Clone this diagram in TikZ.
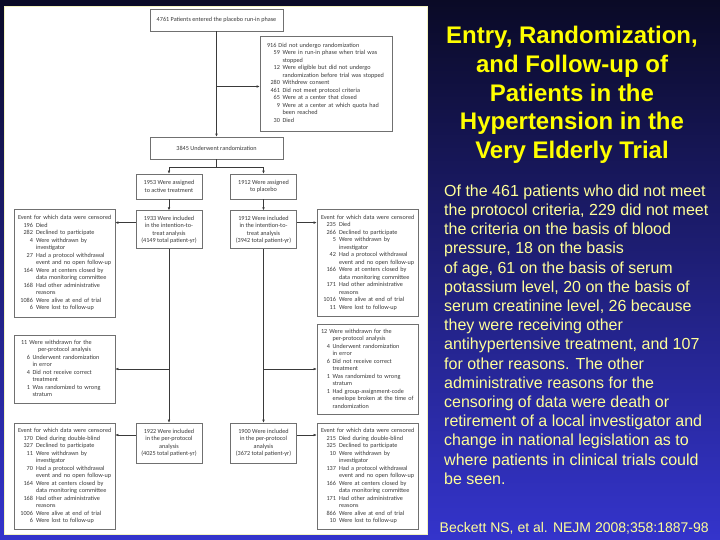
\documentclass[tikz,border=0pt]{standalone}
\usepackage{fontspec}
\usepackage{array}
\setmainfont{Liberation Sans}
\newfontfamily\chartfont{Carlito}
\usepackage{tikz}
\usetikzlibrary{arrows.meta,positioning}
\definecolor{HyvetNavy}{HTML}{0A0A26}
\definecolor{HyvetBlue}{HTML}{3434CC}
\definecolor{HyvetYellow}{HTML}{FFFF00}
\definecolor{HyvetPale}{HTML}{FFFF99}
\definecolor{HyvetRim}{HTML}{F2F2C0}
\definecolor{HyvetGray}{HTML}{707070}
\definecolor{HyvetInk}{HTML}{3A3A3A}

\begin{document}
\begin{tikzpicture}[
    x=1pt,y=-1pt,
    box/.style={draw=HyvetGray,fill=white,line width=0.6pt,inner sep=0pt,text=HyvetInk,font=\chartfont\fontsize{6.2}{7.5}\selectfont},
    cbox/.style={box,align=center,minimum width=66pt},
    lbox/.style={box,text width=93pt,inner xsep=4pt,align=left},
    arr/.style={-{Latex[length=3pt,width=2.6pt]},HyvetInk,line width=0.5pt},
    link/.style={HyvetInk,line width=0.5pt},
    title/.style={align=center,text=HyvetYellow,font=\bfseries\fontsize{24}{28.7}\selectfont},
    note/.style={align=left,text=HyvetPale,inner sep=0pt,font=\fontsize{16}{19.2}\selectfont}
  ]
  \useasboundingbox (0,0) rectangle (720,540);
  \shade[top color=HyvetNavy,bottom color=HyvetBlue] (0,0) rectangle (720,540);
  \draw[HyvetRim,line width=1pt,fill=white] (4.5,6.5) rectangle (427,534);

  % enrolment
  \node[cbox,minimum width=133pt,minimum height=22pt] (run) at (216.5,20)
    {4761 Patients entered the placebo run-in phase};
  \node[lbox,text width=118pt,inner xsep=7pt,minimum height=95pt] (excl) at (326,83.5) {%
    \begin{tabular}{@{}w{r}{13pt}@{\hspace{2.5pt}}l@{}}
    \multicolumn{2}{@{}l@{}}{916 Did not undergo randomization}\\
    59 & Were in run-in phase when trial was\\
       & stopped\\
    12 & Were eligible but did not undergo\\
       & randomization before trial was stopped\\
    280 & Withdrew consent\\
    461 & Did not meet protocol criteria\\
    65 & Were at a center that closed\\
    9 & Were at a center at which quota had\\
      & been reached\\
    30 & Died
    \end{tabular}};
  \node[cbox,minimum width=133pt,minimum height=22pt] (rand) at (216.5,148)
    {3845 Underwent randomization};

  % two arms
  \node[cbox,minimum height=25pt] (act) at (169,186.5) {1953 Were assigned\\to active treatment};
  \node[cbox,minimum height=25pt] (plc) at (263.5,186.5) {1912 Were assigned\\to placebo};
  \node[cbox,minimum height=38pt,below=11pt of act] (ittA)
    {1933 Were included\\in the intention-to-\\treat analysis\\(4149 total patient-yr)};
  \node[cbox,minimum height=38pt,below=11pt of plc] (ittP)
    {1912 Were included\\in the intention-to-\\treat analysis\\(3942 total patient-yr)};
  \node[cbox,minimum height=40pt] (ppA) at (169,443)
    {1922 Were included\\in the per-protocol\\analysis\\(4025 total patient-yr)};
  \node[cbox,minimum height=40pt] (ppP) at (263.5,443)
    {1900 Were included\\in the per-protocol\\analysis\\(3672 total patient-yr)};

  % censored, intention-to-treat
  \node[lbox,minimum height=108pt] (cenA1) at (64.5,263) {%
    \begin{tabular}{@{}w{r}{15pt}@{\hspace{3pt}}l@{}}
    \multicolumn{2}{@{}l@{}}{Event for which data were censored}\\
    196 & Died\\
    282 & Declined to participate\\
    4 & Were withdrawn by\\
      & investigator\\
    27 & Had a protocol withdrawal\\
       & event and no open follow-up\\
    164 & Were at centers closed by\\
        & data monitoring committee\\
    168 & Had other administrative\\
        & reasons\\
    1086 & Were alive at end of trial\\
    6 & Were lost to follow-up
    \end{tabular}};
  \node[lbox,minimum height=107pt] (cenP1) at (367.5,262.5) {%
    \begin{tabular}{@{}w{r}{15pt}@{\hspace{3pt}}l@{}}
    \multicolumn{2}{@{}l@{}}{Event for which data were censored}\\
    235 & Died\\
    266 & Declined to participate\\
    5 & Were withdrawn by\\
      & investigator\\
    42 & Had a protocol withdrawal\\
       & event and no open follow-up\\
    166 & Were at centers closed by\\
        & data monitoring committee\\
    171 & Had other administrative\\
        & reasons\\
    1016 & Were alive at end of trial\\
    11 & Were lost to follow-up
    \end{tabular}};

  % withdrawn for per-protocol
  \node[lbox,text width=87pt,inner xsep=7pt,minimum height=68pt] (wdA) at (64.5,369) {%
    \begin{tabular}{@{}w{r}{9pt}@{\hspace{2.5pt}}l@{}}
    \multicolumn{2}{@{}l@{}}{11 Were withdrawn for the}\\
    \multicolumn{2}{@{}l@{}}{\hspace{17pt}per-protocol analysis}\\
    6 & Underwent randomization\\
      & in error\\
    4 & Did not receive correct\\
      & treatment\\
    1 & Was randomized to wrong\\
      & stratum
    \end{tabular}};
  \node[lbox,minimum height=90pt] (wdP) at (367.5,369) {%
    \begin{tabular}{@{}w{r}{9pt}@{\hspace{2.5pt}}l@{}}
    \multicolumn{2}{@{}l@{}}{12 Were withdrawn for the}\\
      & per-protocol analysis\\
    4 & Underwent randomization\\
      & in error\\
    6 & Did not receive correct\\
      & treatment\\
    1 & Was randomized to wrong\\
      & stratum\\
    1 & Had group-assignment-code\\
      & envelope broken at the time of\\
      & randomization
    \end{tabular}};

  % censored, per-protocol
  \node[lbox,minimum height=106pt] (cenA2) at (64.5,476) {%
    \begin{tabular}{@{}w{r}{15pt}@{\hspace{3pt}}l@{}}
    \multicolumn{2}{@{}l@{}}{Event for which data were censored}\\
    170 & Died during double-blind\\
    327 & Declined to participate\\
    11 & Were withdrawn by\\
       & investigator\\
    70 & Had a protocol withdrawal\\
       & event and no open follow-up\\
    164 & Were at centers closed by\\
        & data monitoring committee\\
    168 & Had other administrative\\
        & reasons\\
    1006 & Were alive at end of trial\\
    6 & Were lost to follow-up
    \end{tabular}};
  \node[lbox,minimum height=106pt] (cenP2) at (367.5,476) {%
    \begin{tabular}{@{}w{r}{15pt}@{\hspace{3pt}}l@{}}
    \multicolumn{2}{@{}l@{}}{Event for which data were censored}\\
    215 & Died during double-blind\\
    325 & Declined to participate\\
    10 & Were withdrawn by\\
       & investigator\\
    137 & Had a protocol withdrawal\\
        & event and no open follow-up\\
    166 & Were at centers closed by\\
        & data monitoring committee\\
    171 & Had other administrative\\
        & reasons\\
    866 & Were alive at end of trial\\
    10 & Were lost to follow-up
    \end{tabular}};

  % connectors
  \draw[arr] (run.south) -- (rand.north);
  \draw[arr] ([yshift=-3pt]run.south |- excl.west) -- ([yshift=-3pt]excl.west);
  \draw[link] (rand.south) -- ++(0,8) coordinate (split);
  \draw[link] (split -| act.north) -- (split -| plc.north);
  \draw[arr] (split -| act.north) -- (act.north);
  \draw[arr] (split -| plc.north) -- (plc.north);
  \draw[arr] (act) -- (ittA);
  \draw[arr] (plc) -- (ittP);
  \draw[arr] ([yshift=7pt]ittA.west) -- ([yshift=7pt]ittA.west -| cenA1.east);
  \draw[arr] ([yshift=7pt]ittP.east) -- ([yshift=7pt]ittP.east -| cenP1.west);
  \draw[arr] (ittA) -- (ppA);
  \draw[arr] (ittP) -- (ppP);
  \draw[arr] (ittA.south |- wdA.east) -- (wdA.east);
  \draw[arr] (ittP.south |- wdP.west) -- (wdP.west);
  \draw[arr] ([yshift=8pt]ppA.west) -- ([yshift=8pt]ppA.west -| cenA2.east);
  \draw[arr] ([yshift=8pt]ppP.east) -- ([yshift=8pt]ppP.east -| cenP2.west);

  % slide text
  \node[title] (head) at (572,95)
    {Entry, Randomization,\\and Follow-up of\\Patients in the\\Hypertension in the\\Very Elderly Trial};
  \node[note,anchor=north west] (story) at (444,184.5)
    {Of the 461 patients who did not meet\\
     the protocol criteria, 229 did not meet\\
     the criteria on the basis of blood\\
     pressure, 18 on the basis\\
     of age, 61 on the basis of serum\\
     potassium level, 20 on the basis of\\
     serum creatinine level, 26 because\\
     they were receiving other\\
     antihypertensive treatment, and 107\\
     for other reasons. The other\\
     administrative reasons for the\\
     censoring of data were death or\\
     retirement of a local investigator and\\
     change in national legislation as to\\
     where patients in clinical trials could\\
     be seen.};
  \node[note,anchor=base west,font=\fontsize{14}{16}\selectfont] (cite) at (439.5,532)
    {Beckett NS, et al. NEJM 2008;358:1887-98};
\end{tikzpicture}
\end{document}
